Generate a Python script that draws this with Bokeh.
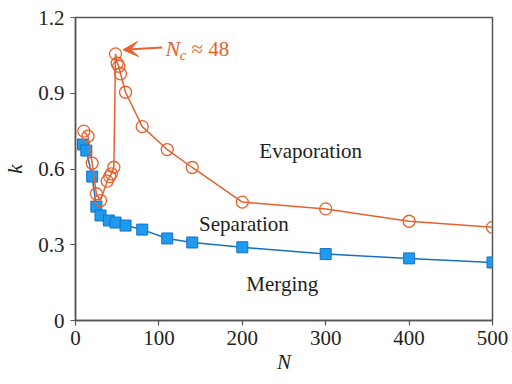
from bokeh.plotting import figure
from bokeh.models import Range1d, FixedTicker, CustomJSTickFormatter, Label, Arrow, VeeHead
from bokeh.embed import file_html
from bokeh.resources import INLINE

# Evaporation / separation boundary (orange, open circles)
evap_n = [10, 15, 20, 25, 30, 38, 41, 43, 46, 48, 50, 52, 54, 60, 80, 110, 140, 200, 300, 400, 500]
evap_k = [0.750, 0.730, 0.623, 0.502, 0.475, 0.552, 0.570, 0.581, 0.607, 1.056, 1.019, 1.007,
          0.977, 0.904, 0.768, 0.677, 0.606, 0.469, 0.442, 0.393, 0.369]

# Merging / separation boundary (blue, filled squares)
merge_n = [9, 13, 20, 25, 30, 40, 48, 60, 80, 110, 140, 200, 300, 400, 500]
merge_k = [0.697, 0.673, 0.570, 0.451, 0.416, 0.396, 0.388, 0.376, 0.360, 0.325, 0.309,
           0.290, 0.263, 0.246, 0.230]

x_ticks = [0, 100, 200, 300, 400, 500]
y_ticks = [0, 0.3, 0.6, 0.9, 1.2]

ORANGE = "#E5612E"
BLUE_FILL = "#1E9BF0"
BLUE_EDGE = "#1572C4"
BLUE_LINE = "#1670C2"
FONT = "Liberation Serif"
TXT = "#231F20"

p = figure(width=512, height=384, output_backend="svg", toolbar_location=None,
           x_range=Range1d(0, 500), y_range=Range1d(0, 1.2))
p.min_border_left = 75
p.min_border_right = 20
p.min_border_top = 17
p.min_border_bottom = 64
p.background_fill_color = "white"
p.border_fill_color = "white"
p.grid.visible = False
p.outline_line_color = "#555555"
p.outline_line_width = 1.5

for ax in (p.xaxis[0], p.yaxis[0]):
    ax.axis_line_color = "#555555"
    ax.axis_line_width = 1.5
    ax.major_tick_line_color = "#555555"
    ax.major_tick_line_width = 1.2
    ax.major_tick_out = 5
    ax.major_tick_in = 0
    ax.minor_tick_line_color = None
    ax.major_label_text_font = FONT
    ax.major_label_text_font_size = "21px"
    ax.major_label_text_color = TXT
    ax.axis_label_text_font = FONT
    ax.axis_label_text_font_size = "21px"
    ax.axis_label_text_font_style = "italic"
    ax.axis_label_text_color = TXT

p.xaxis.ticker = FixedTicker(ticks=x_ticks)
p.yaxis.ticker = FixedTicker(ticks=y_ticks)
p.yaxis.formatter = CustomJSTickFormatter(code="return tick == 0 ? '0' : tick.toFixed(1);")
p.xaxis.axis_label = "N"
p.yaxis.axis_label = "k"
p.xaxis.major_label_standoff = 5
p.yaxis.major_label_standoff = 6
p.xaxis.axis_label_standoff = 2
p.yaxis.axis_label_standoff = 8

# blue series
p.line(merge_n, merge_k, line_color=BLUE_LINE, line_width=1.5)
p.scatter(merge_n, merge_k, marker="square", size=11, fill_color=BLUE_FILL,
          line_color=BLUE_EDGE, line_width=1)

# orange series
p.line(evap_n, evap_k, line_color=ORANGE, line_width=1.5)
p.scatter(evap_n, evap_k, marker="circle", size=12, fill_alpha=0,
          line_color=ORANGE, line_width=1.3)

# region labels
for txt, x, y in [("Evaporation", 282, 0.673), ("Separation", 202, 0.384), ("Merging", 248, 0.146)]:
    p.add_layout(Label(x=x, y=y, text=txt, text_font=FONT, text_font_size="21px",
                       text_color=TXT, text_align="center", text_baseline="middle"))

# annotation N_c ≈ 48 with arrow
p.add_layout(Arrow(x_start=104, y_start=1.081, x_end=57, y_end=1.072,
                   line_color=ORANGE, line_width=2,
                   end=VeeHead(size=15, fill_color=ORANGE, line_color=ORANGE)))
p.add_layout(Label(x=108, y=1.076, text="N", text_font=FONT, text_font_size="22px",
                   text_font_style="italic", text_color=ORANGE, text_baseline="middle"))
p.add_layout(Label(x=125, y=1.052, text="c", text_font=FONT, text_font_size="15px",
                   text_font_style="italic", text_color=ORANGE, text_baseline="middle"))
p.add_layout(Label(x=139, y=1.076, text="≈ 48", text_font=FONT, text_font_size="21px",
                   text_color=ORANGE, text_baseline="middle"))

open("out.html", "w").write(file_html(p, INLINE))
